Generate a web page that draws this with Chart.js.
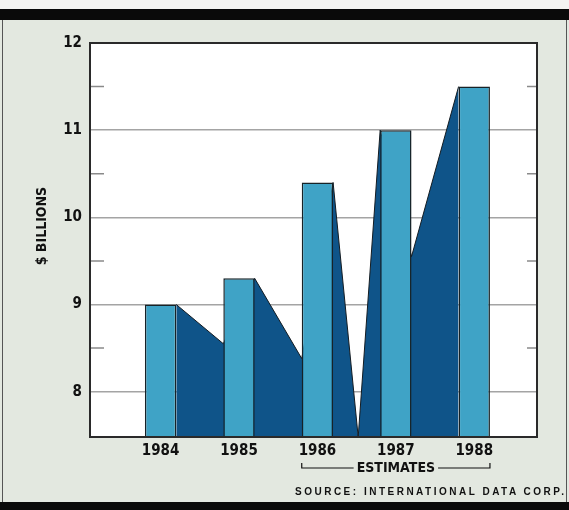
<!DOCTYPE html>
<html>
<head>
<meta charset="utf-8">
<script src="https://cdn.jsdelivr.net/npm/chart.js@4"></script>
<style>
  body { margin: 0; background: #e3e8e0; }
  #wrap { position: relative; width: 569px; height: 510px; overflow: hidden; }
  #topband { position: absolute; left: 0; top: 9px; width: 569px; height: 11px; background: #0a0a0a; }
  #topstrip { position: absolute; left: 0; top: 0; width: 569px; height: 9px; background: #f4f4f2; }
  #botband { position: absolute; left: 0; top: 502px; width: 569px; height: 8px; background: #0a0a0a; }
  #lside { position: absolute; left: 2px; top: 20px; width: 1px; height: 482px; background: #555; }
  #rside { position: absolute; left: 566px; top: 20px; width: 1px; height: 482px; background: #555; }
  #source { position: absolute; left: 295px; top: 486px; font: bold 10px 'Liberation Sans', Arial, sans-serif; letter-spacing: 2.5px; color: #111; white-space: nowrap; }
  canvas { position: absolute; left: 0; top: 0; }
</style>
</head>
<body>
<div id="wrap">
  <div id="topstrip"></div>
  <div id="topband"></div>
  <div id="lside"></div>
  <div id="rside"></div>
  <canvas id="chart" width="569" height="510"></canvas>
  <div id="source">SOURCE: INTERNATIONAL DATA CORP.</div>
  <div id="botband"></div>
</div>
<script>
// bar values, $ billions
const years = [1984, 1985, 1986, 1987, 1988];
const revenue = [9.0, 9.3, 10.4, 11.0, 11.5];

// dark "shadow" outline between the bars
const shadowX = [1984.2, 1984.8, 1985.2, 1985.8, 1986.2, 1986.52, 1986.8, 1987.2, 1987.8];
const shadowY = [9.0, 8.55, 9.3, 8.38, 10.4, 7.48, 11.0, 9.55, 11.5];

const yTicks = [8, 9, 10, 11, 12];
const yMinor = [8.5, 9.5, 10.5, 11.5];
const estimateFrom = 1985.8;
const estimateTo = 1988.2;

const font = "'Liberation Sans Narrow', 'DejaVu Sans Condensed', sans-serif";

const framePlugin = {
    id: 'frame',
    beforeDraw(chart) {
        const a = chart.chartArea;
        const ctx = chart.ctx;
        ctx.save();
        ctx.fillStyle = '#ffffff';
        ctx.fillRect(a.left, a.top, a.right - a.left, a.bottom - a.top);
        ctx.restore();
    },
    afterDraw(chart) {
        const a = chart.chartArea;
        const ctx = chart.ctx;
        const y = chart.scales.y;
        const x = chart.scales.x;
        ctx.save();
        // minor marks at the half values
        ctx.strokeStyle = '#8a8a8a';
        ctx.lineWidth = 1.5;
        yMinor.forEach(v => {
            const py = y.getPixelForValue(v);
            ctx.beginPath();
            ctx.moveTo(a.left, py);
            ctx.lineTo(a.left + 14, py);
            ctx.moveTo(a.right - 10, py);
            ctx.lineTo(a.right, py);
            ctx.stroke();
        });
        // frame
        ctx.strokeStyle = '#2a2a2a';
        ctx.lineWidth = 2;
        ctx.strokeRect(a.left, a.top, a.right - a.left, a.bottom - a.top);

        // y title, a little above the middle like the original
        ctx.fillStyle = '#111';
        ctx.font = 'bold 14px ' + font;
        ctx.textAlign = 'center';
        ctx.textBaseline = 'middle';
        ctx.save();
        ctx.translate(42, y.getPixelForValue(9.9));
        ctx.rotate(-Math.PI / 2);
        ctx.fillText('$ BILLIONS', 0, 0);
        ctx.restore();

        // estimates bracket
        const x0 = x.getPixelForValue(estimateFrom);
        const x1 = x.getPixelForValue(estimateTo);
        const mid = (x0 + x1) / 2;
        const by = a.bottom + 31;
        const label = 'ESTIMATES';
        const w = ctx.measureText(label).width;
        ctx.fillText(label, mid, by);
        ctx.strokeStyle = '#111';
        ctx.lineWidth = 1.2;
        ctx.beginPath();
        ctx.moveTo(x0, by - 5);
        ctx.lineTo(x0, by);
        ctx.lineTo(mid - w / 2 - 3, by);
        ctx.moveTo(mid + w / 2 + 3, by);
        ctx.lineTo(x1, by);
        ctx.lineTo(x1, by - 5);
        ctx.stroke();
        ctx.restore();
    }
};

new Chart(document.getElementById('chart').getContext('2d'), {
    type: 'bar',
    data: {
        datasets: [{
            type: 'line',
            data: shadowX.map((v, i) => ({ x: v, y: shadowY[i] })),
            borderColor: '#141c22',
            borderWidth: 1,
            backgroundColor: '#0f5489',
            fill: 'start',
            pointRadius: 0,
            tension: 0,
            order: 2
        }, {
            type: 'bar',
            data: years.map((v, i) => ({ x: v, y: revenue[i] })),
            backgroundColor: '#3fa3c6',
            borderColor: '#172227',
            borderWidth: 1.5,
            categoryPercentage: 1,
            barPercentage: 0.4,
            order: 1
        }]
    },
    options: {
        responsive: false,
        animation: false,
        layout: { padding: { left: 0, right: 32, top: 43, bottom: 0 } },
        plugins: {
            legend: { display: false },
            tooltip: { enabled: false }
        },
        scales: {
            x: {
                type: 'linear',
                min: 1983.1,
                max: 1988.8,
                offset: false,
                afterBuildTicks: scale => { scale.ticks = years.map(v => ({ value: v })); },
                afterFit: scale => { scale.height = 73; },
                grid: { display: false, drawTicks: false },
                border: { display: false },
                ticks: {
                    padding: 5,
                    color: '#111',
                    font: { family: font, size: 15, weight: 'bold' },
                    callback: v => String(v)
                }
            },
            y: {
                min: 7.48,
                max: 12,
                afterBuildTicks: scale => { scale.ticks = yTicks.map(v => ({ value: v })); },
                afterFit: scale => { scale.width = 90; },
                grid: { color: '#a4a4a4', lineWidth: 1.5, drawTicks: false },
                border: { display: false },
                ticks: {
                    padding: 8,
                    color: '#111',
                    font: { family: font, size: 15, weight: 'bold' }
                }
            }
        }
    },
    plugins: [framePlugin]
});
</script>
</body>
</html>
